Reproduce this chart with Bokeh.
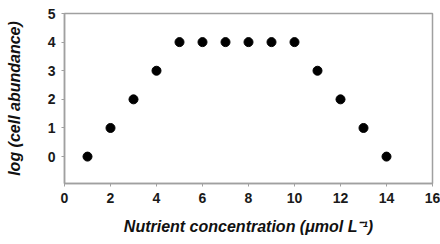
from bokeh.plotting import figure
from bokeh.models import FixedTicker, Range1d
from bokeh.embed import file_html
from bokeh.resources import INLINE

nutrient = [1, 2, 3, 4, 5, 6, 7, 8, 9, 10, 11, 12, 13, 14]
log_abundance = [0, 1, 2, 3, 4, 4, 4, 4, 4, 4, 3, 2, 1, 0]
x_ticks = [0, 2, 4, 6, 8, 10, 12, 14, 16]
y_ticks = [0, 1, 2, 3, 4, 5]
x_label = "Nutrient concentration (\u03bcmol L\u207b\u00b9)"
y_label = "log (cell abundance)"

FONT = "Liberation Sans"
GREY = "#a0a0a0"

p = figure(width=440, height=244, output_backend="svg", toolbar_location=None,
           x_range=Range1d(0, 16), y_range=Range1d(-0.94, 5),
           min_border_left=64, min_border_right=8, min_border_top=13, min_border_bottom=61)
p.grid.visible = False
p.outline_line_color = GREY
p.outline_line_width = 1.5

for ax, ticks, label in ((p.xaxis[0], x_ticks, x_label), (p.yaxis[0], y_ticks, y_label)):
    ax.ticker = FixedTicker(ticks=ticks)
    ax.axis_line_color = GREY
    ax.axis_line_width = 1.5
    ax.major_tick_line_color = GREY
    ax.major_tick_in = 0
    ax.major_tick_out = 3
    ax.minor_tick_line_color = None
    ax.major_label_text_font = FONT
    ax.major_label_text_font_style = "bold"
    ax.major_label_text_font_size = "14px"
    ax.major_label_text_color = "#1a1a1a"
    ax.major_label_standoff = 6
    ax.axis_label = label
    ax.axis_label_text_font = FONT
    ax.axis_label_text_font_style = "bold italic"
    ax.axis_label_text_font_size = "16px"
    ax.axis_label_text_color = "#111111"

p.xaxis[0].axis_label_standoff = 12
p.yaxis[0].axis_label_standoff = 22

p.scatter(nutrient, log_abundance, size=9, color="black")

open("out.html", "w").write(file_html(p, INLINE))
